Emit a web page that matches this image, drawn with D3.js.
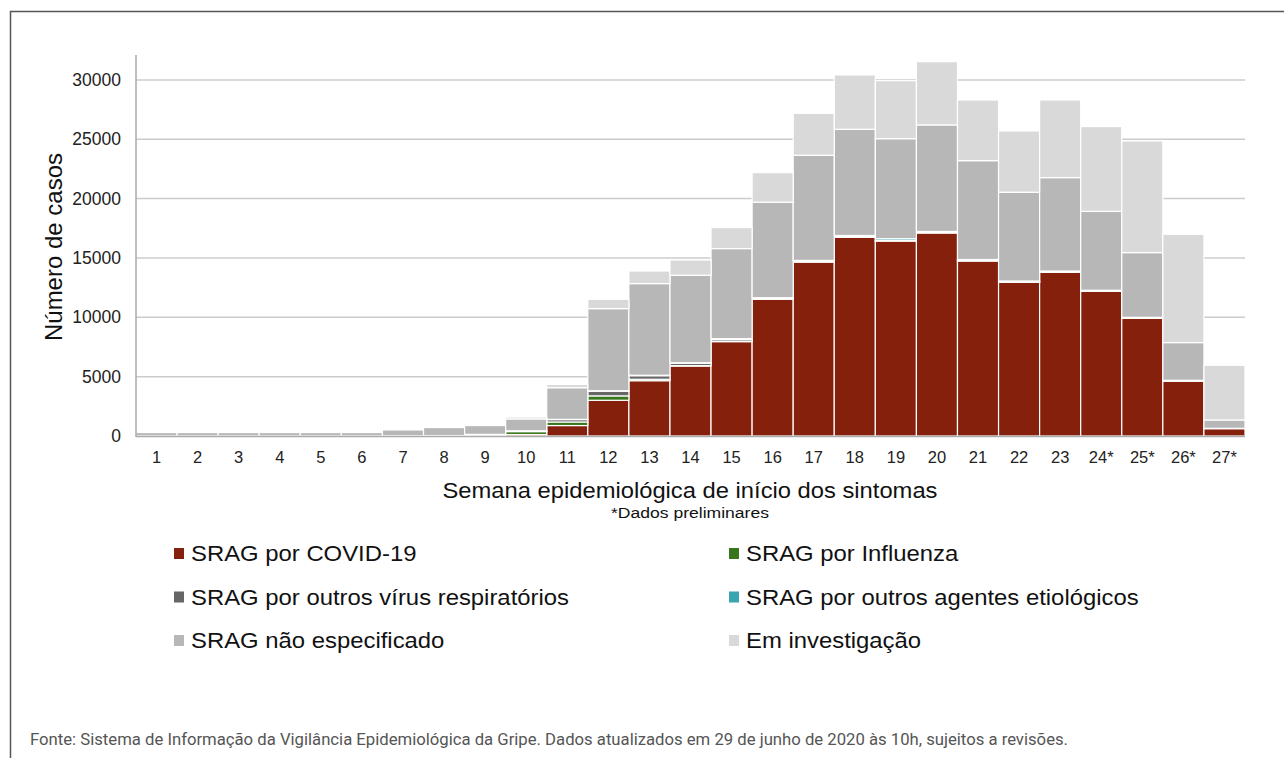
<!DOCTYPE html>
<html>
<head>
<meta charset="utf-8">
<script src="https://cdn.jsdelivr.net/npm/d3@7/dist/d3.min.js"></script>
<style>
  body { margin: 0; background: #fff; }
  svg { display: block; }
</style>
</head>
<body>
<svg id="chart" width="1284" height="758"></svg>
<script>
// semanas epidemiologicas
var weeks = ['1','2','3','4','5','6','7','8','9','10','11','12','13','14','15','16','17','18','19','20','21','22','23','24*','25*','26*','27*'];

var covid      = [0,0,0,0,0,0,0,0,20,120,880,3010,4660,5900,7950,11520,14660,16740,16430,17110,14750,12950,13790,12190,9920,4630,620];
var influenza  = [0,0,0,0,0,0,10,20,90,250,300,370,120,30,20,20,15,15,15,15,10,10,10,10,10,5,0];
var outrosVir  = [10,10,10,10,10,10,10,20,30,60,200,400,300,200,150,50,40,40,30,30,30,30,30,20,20,20,10];
var outrosAg   = [0,0,0,0,0,0,0,0,0,10,20,30,40,40,80,60,80,100,150,80,80,70,70,60,50,40,20];
var naoEsp     = [280,280,280,280,280,280,490,670,740,1000,2670,6920,7720,7370,7590,8050,8855,8945,8425,8975,8330,7480,7870,6650,5450,3175,700];
var investig   = [0,0,0,0,0,0,0,0,0,160,280,790,1060,1290,1770,2490,3540,4580,4890,5330,5110,5160,6540,7140,9410,9130,4610];

var seriesNames = ['SRAG por COVID-19','SRAG por Influenza','SRAG por outros vírus respiratórios','SRAG por outros agentes etiológicos','SRAG não especificado','Em investigação'];
var seriesVals = [covid, influenza, outrosVir, outrosAg, naoEsp, investig];
var colors = ['#85200c','#38761d','#666666','#3aa5b0','#b7b7b7','#d9d9d9'];

var yTicks = [0,5000,10000,15000,20000,25000,30000];

var svg = d3.select('#chart');
var font = 'Liberation Sans, Arial, sans-serif';

// moldura
svg.append('path')
  .attr('d', 'M10.5,758 L10.5,11.5 L1284,11.5')
  .attr('fill', 'none')
  .attr('stroke', '#555')
  .attr('stroke-width', 1.5);

var plotLeft = 136, plotRight = 1245, plotTop = 55, plotBottom = 436;

var x = d3.scaleBand().domain(weeks).range([plotLeft, plotRight]).padding(0);
var y = d3.scaleLinear().domain([0, 32100]).range([plotBottom, plotTop]);

// grid
svg.append('g').selectAll('line').data(yTicks.slice(1)).enter()
  .append('line')
  .attr('x1', plotLeft).attr('x2', plotRight)
  .attr('y1', function (d) { return y(d); })
  .attr('y2', function (d) { return y(d); })
  .attr('stroke', '#cccccc')
  .attr('stroke-width', 1.5);

var table = weeks.map(function (w, i) {
  var row = {week: w};
  seriesNames.forEach(function (s, j) { row[s] = seriesVals[j][i]; });
  return row;
});

var stacked = d3.stack().keys(seriesNames)(table);

svg.append('g').selectAll('g').data(stacked).enter()
  .append('g')
  .attr('fill', function (d, i) { return colors[i]; })
  .selectAll('rect').data(function (d) { return d; }).enter()
  .append('rect')
  .attr('x', function (d) { return x(d.data.week); })
  .attr('width', x.bandwidth())
  .attr('y', function (d) { return y(d[1]); })
  .attr('height', function (d) { return Math.max(0, y(d[0]) - y(d[1])); })
  .attr('stroke', '#fff')
  .attr('stroke-width', 1.2);

// eixos
svg.append('line')
  .attr('x1', plotLeft).attr('x2', plotLeft).attr('y1', plotTop).attr('y2', plotBottom + 1)
  .attr('stroke', '#aaaaaa').attr('stroke-width', 1.5);
svg.append('line')
  .attr('x1', plotLeft).attr('x2', plotRight).attr('y1', plotBottom + 0.5).attr('y2', plotBottom + 0.5)
  .attr('stroke', '#aaaaaa').attr('stroke-width', 1.5);

var yAxis = svg.append('g')
  .attr('transform', 'translate(' + (plotLeft - 15) + ',0)')
  .call(d3.axisLeft(y).tickValues(yTicks).tickSize(0).tickPadding(0).tickFormat(d3.format('d')));
yAxis.select('.domain').remove();
yAxis.selectAll('text')
  .attr('font-family', font).attr('font-size', 17.5).attr('fill', '#222');

var xAxis = svg.append('g')
  .attr('transform', 'translate(0,' + (plotBottom + 15) + ')')
  .call(d3.axisBottom(x).tickSize(0).tickPadding(0));
xAxis.select('.domain').remove();
xAxis.selectAll('text')
  .attr('font-family', font).attr('font-size', 16.5).attr('fill', '#222');

svg.append('text')
  .attr('transform', 'translate(62,247) rotate(-90)')
  .attr('text-anchor', 'middle')
  .attr('font-family', font).attr('font-size', 24).attr('fill', '#111')
  .text('Número de casos');

svg.append('text')
  .attr('x', 690).attr('y', 498)
  .attr('text-anchor', 'middle')
  .attr('font-family', font).attr('font-size', 22).attr('fill', '#111')
  .attr('textLength', 495).attr('lengthAdjust', 'spacingAndGlyphs')
  .text('Semana epidemiológica de início dos sintomas');

svg.append('text')
  .attr('x', 690).attr('y', 518)
  .attr('text-anchor', 'middle')
  .attr('font-family', font).attr('font-size', 15.5).attr('fill', '#111')
  .attr('textLength', 158).attr('lengthAdjust', 'spacingAndGlyphs')
  .text('*Dados preliminares');

// legenda
var legend = svg.append('g').selectAll('g').data(seriesNames).enter()
  .append('g')
  .attr('transform', function (d, i) {
    return 'translate(' + (i % 2 === 0 ? 174 : 729) + ',' + (553 + Math.floor(i / 2) * 43.5) + ')';
  });
legend.append('rect')
  .attr('x', 0).attr('y', -5).attr('width', 10).attr('height', 11)
  .attr('fill', function (d, i) { return colors[i]; });
legend.append('text')
  .attr('x', 17).attr('y', 8)
  .attr('font-family', font).attr('font-size', 21.5).attr('fill', '#111')
  .text(function (d) { return d; })
  .each(function () {
    var w = this.getComputedTextLength();
    d3.select(this).attr('textLength', w * 1.11).attr('lengthAdjust', 'spacingAndGlyphs');
  });

svg.append('text')
  .attr('x', 30).attr('y', 745)
  .attr('font-family', 'Liberation Sans Narrow, Roboto, sans-serif')
  .attr('font-size', 16).attr('fill', '#555')
  .attr('textLength', 1038).attr('lengthAdjust', 'spacingAndGlyphs')
  .text('Fonte: Sistema de Informação da Vigilância Epidemiológica da Gripe. Dados atualizados em 29 de junho de 2020 às 10h, sujeitos a revisões.');
</script>
</body>
</html>
